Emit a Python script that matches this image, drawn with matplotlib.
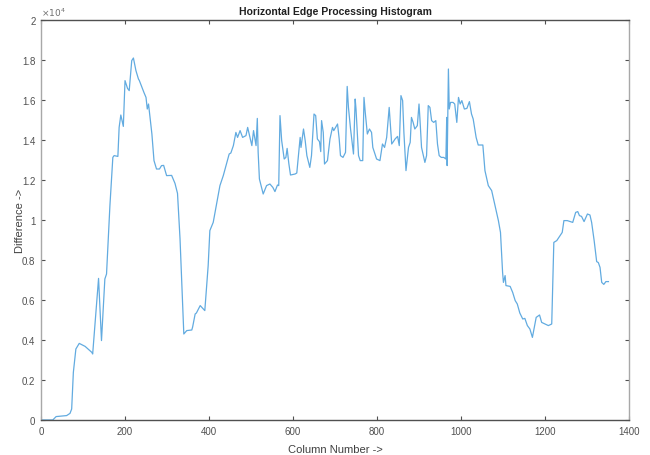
import matplotlib.pyplot as plt

# column positions and difference values
col = [0, 28, 36, 61, 69, 73, 77, 83, 91, 105, 121, 123, 137, 144, 152, 156,
       164, 171, 174, 183, 186, 190, 196, 200, 206, 210, 216, 220, 226, 232,
       234, 245, 250, 253, 256, 264, 269, 275, 282, 287, 292, 299, 311, 319,
       325, 331, 340, 347, 359, 361, 367, 370, 379, 390, 398, 402, 410, 426,
       434, 448, 452, 458, 464, 468, 474, 480, 488, 492, 495, 502, 506, 512,
       515, 517, 520, 529, 537, 545, 552, 557, 563, 566, 569, 573, 579, 583,
       586, 590, 594, 605, 609, 617, 619, 625, 629, 633, 640, 644, 650, 654,
       658, 663, 666, 668, 672, 675, 682, 688, 694, 697, 706, 710, 713, 719,
       725, 729, 732, 737, 744, 748, 750, 756, 760, 766, 769, 772, 777, 782,
       787, 790, 795, 799, 807, 813, 818, 823, 829, 835, 839, 843, 849, 853,
       857, 861, 864, 869, 875, 879, 882, 886, 890, 896, 900, 902, 906, 914,
       918, 922, 926, 930, 935, 940, 944, 948, 953, 959, 964, 966, 967, 970,
       972, 975, 981, 985, 990, 994, 998, 1002, 1008, 1014, 1020, 1025, 1029,
       1036, 1041, 1052, 1057, 1065, 1073, 1081, 1089, 1094, 1099, 1101, 1105,
       1107, 1117, 1123, 1129, 1134, 1140, 1147, 1152, 1158, 1164, 1170, 1179,
       1187, 1192, 1200, 1208, 1216, 1221, 1228, 1236, 1241, 1245, 1253, 1260,
       1266, 1273, 1278, 1282, 1287, 1293, 1301, 1307, 1311, 1317, 1323, 1327,
       1331, 1335, 1340, 1345, 1351]
diff = [0, 0, 170, 220, 330, 550, 2380, 3550, 3830, 3680, 3380, 3300, 7080,
        3970, 7050, 7300, 10700, 13130, 13220, 13180, 14630, 15250, 14680,
        16970, 16580, 16470, 17970, 18100, 17470, 17050, 16980, 16380, 16130,
        15550, 15800, 14300, 12970, 12550, 12550, 12720, 12730, 12220, 12230,
        11830, 11330, 9050, 4300, 4470, 4500, 4650, 5300, 5350, 5720, 5470,
        7720, 9470, 9880, 11720, 12220, 13300, 13350, 13720, 14380, 14130,
        14470, 14130, 14220, 14630, 14350, 13720, 14470, 13720, 15080, 13380,
        12050, 11300, 11720, 11800, 11630, 11420, 11750, 11720, 15220, 13970,
        13050, 13130, 13580, 12830, 12250, 12300, 12350, 14130, 13630, 14550,
        13970, 13220, 12630, 13220, 15300, 15220, 14050, 13920, 13420, 14970,
        14380, 12800, 12970, 14050, 14630, 14470, 14800, 14050, 13220, 13130,
        13380, 16680, 15630, 14550, 13300, 16050, 15550, 13220, 12970, 12970,
        16130, 15380, 14300, 14550, 14380, 13630, 13300, 13050, 12970, 13800,
        13630, 14130, 15630, 13800, 13920, 14050, 14180, 13720, 16220, 15970,
        14380, 12470, 13630, 13880, 15130, 14880, 14550, 14720, 15800, 15130,
        13630, 12880, 13220, 15720, 15630, 14970, 14880, 14970, 13800, 13220,
        13130, 13130, 13050, 15130, 12720, 17550, 15550, 15880, 15880, 15800,
        14880, 16130, 15800, 15970, 15550, 15580, 15920, 15300, 15050, 14130,
        13750, 13750, 12470, 11720, 11470, 10720, 9970, 9380, 7380, 6880, 7220,
        6720, 6680, 6380, 5970, 5800, 5350, 5050, 5080, 4720, 4550, 4130, 5130,
        5250, 4880, 4800, 4720, 4800, 8880, 8970, 9220, 9380, 9970, 9970, 9920,
        9880, 10380, 10420, 10220, 10180, 9920, 10300, 10250, 9880, 8970, 7920,
        7870, 7630, 6880, 6780, 6920, 6920]

xticks = [0, 200, 400, 600, 800, 1000, 1200, 1400]
yticks = [0, 2000, 4000, 6000, 8000, 10000, 12000, 14000, 16000, 18000, 20000]
ytick_labels = ['0', '0.2', '0.4', '0.6', '0.8', '1', '1.2', '1.4', '1.6', '1.8', '2']

plt.rcParams['font.family'] = ['Liberation Sans', 'DejaVu Sans']

fig = plt.figure(figsize=(6.5, 4.56), dpi=100)
ax = fig.add_axes([0.0631, 0.0768, 0.9046, 0.8771])

ax.plot(col, diff, color='#62abe0', linewidth=0.9)

ax.set_xlim(0, 1400)
ax.set_ylim(0, 20000)
ax.set_xticks(xticks)
ax.set_yticks(yticks)
ax.set_yticklabels(ytick_labels)
ax.tick_params(direction='in', top=True, right=True, length=3, width=0.8,
               labelsize=7, colors='#505050', pad=4)

# horizontal edges come out darker than the vertical ones in the reference
for side in ['top', 'bottom']:
    ax.spines[side].set_color('#505050')
for side in ['left', 'right']:
    ax.spines[side].set_color('#a8a8a8')
for s in ax.spines.values():
    s.set_linewidth(1.0)

ax.text(0.0, 1.005, r'$\times10^4$', transform=ax.transAxes, fontsize=6.5,
        color='#707070', ha='left', va='bottom')

ax.set_title('Horizontal Edge Processing Histogram', fontsize=7.5,
             fontweight='bold', color='#202020', pad=4)
ax.set_xlabel('Column Number ->', fontsize=8, color='#404040', labelpad=6)
ax.set_ylabel('Difference ->', fontsize=8, color='#404040')
ax.yaxis.set_label_coords(-0.027, 0.5)

fig.savefig('out.png', dpi=100)
